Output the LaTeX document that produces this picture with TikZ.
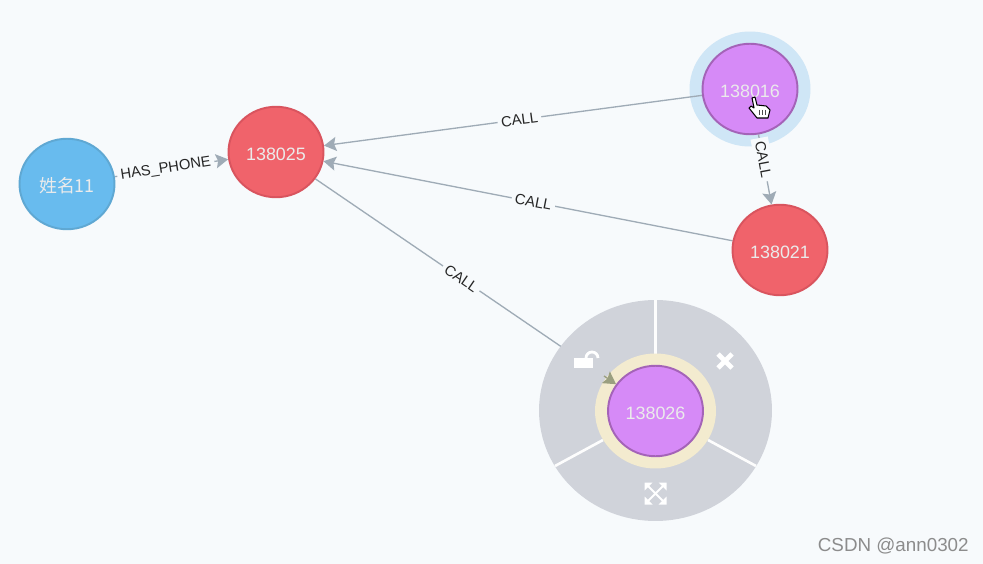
\documentclass[tikz,border=0pt]{standalone}
\usepackage{fontspec}
\setmainfont{Liberation Sans}
\newfontfamily\cjk{Noto Sans CJK SC}
\usetikzlibrary{arrows.meta,backgrounds,shapes.geometric}
\definecolor{pagebg}{HTML}{F7FAFC}
\definecolor{edgegray}{HTML}{9FABB6}
\definecolor{menugray}{HTML}{D0D3DA}
\definecolor{personblue}{HTML}{68BBEE}
\definecolor{personline}{HTML}{5FA8D3}
\definecolor{phonered}{HTML}{F0636B}
\definecolor{phoneline}{HTML}{D9545E}
\definecolor{callpurple}{HTML}{D68AF7}
\definecolor{callline}{HTML}{A463B8}
\definecolor{haloblue}{HTML}{CFE6F6}
\definecolor{halocream}{HTML}{F3EBCF}
\definecolor{tipolive}{HTML}{9A9F80}
\tikzset{
	graphnode/.style={ellipse, minimum width=1.9cm, minimum height=1.81cm, inner sep=0pt, line width=1.1pt, text=white!92!black, text height=9.6pt, text depth=0pt, font=\fontsize{10.2}{12}\selectfont},
	person/.style={graphnode, fill=personblue, draw=personline},
	phone/.style={graphnode, fill=phonered, draw=phoneline},
	call/.style={graphnode, fill=callpurple, draw=callline},
	halo/.style={ellipse, inner sep=0pt, minimum width=2.42cm, minimum height=2.3cm},
	edgeline/.style={draw=edgegray, line width=0.75pt, -{Stealth[length=7pt,width=8pt,inset=1.2pt]}},
	edgelabel/.style={sloped, fill=pagebg, inner sep=2pt, text=black!85, font=\fontsize{8.4}{10}\selectfont},
	menuline/.style={white!95!menugray, line width=1.5pt},
}
\begin{document}
\begin{tikzpicture}[x=0.02cm, y=-0.02cm]
	\path[use as bounding box] (0,0) rectangle (983,564);
	\node[ellipse, fill=menugray, minimum width=4.66cm, minimum height=4.42cm, inner sep=0pt] (menu) at (655.5,410.5) {};
	\draw[menuline] (655.5,300) -- (655.5,356);
	\draw[menuline] (555,466) -- (603,440);
	\draw[menuline] (756,466) -- (708,440);
	\node[halo, fill=halocream] (halo26) at (655.5,411) {};
	\fill[white] (574,358) rectangle (593,368);
	\draw[white, line width=1.6pt] (586,358) arc (180:360:6);
	\draw[white, line width=2.7pt] (718,354) -- (732,368) (732,354) -- (718,368);
	\draw[white, line width=1.1pt] (648,486) -- (663,501) (663,486) -- (648,501);
	\foreach \sx/\sy in {-1/-1, 1/-1, -1/1, 1/1} {
		\fill[white] (655.5+11*\sx,493.5+11*\sy) -- (655.5+3*\sx,493.5+11*\sy) -- (655.5+11*\sx,493.5+3*\sy) -- cycle;
	}
	\node[person] (name11) at (67,184) {{\cjk 姓名11}};
	\node[phone] (n25) at (276,152) {138025};
	\node[call] (n16) at (750,89) {138016};
	\node[phone] (n21) at (780,250) {138021};
	\node[call] (n26) at (655.5,411) {138026};
	\coordinate (tip26) at (604,376);
	\begin{pgfonlayer}{background}
		\fill[pagebg] (0,0) rectangle (983,564);
		\node[halo, fill=haloblue] (halo16) at (750,89) {};
		\draw[edgeline] (name11) -- node[edgelabel, pos=0.45] {HAS\_PHONE} (n25);
		\draw[edgeline] (n16) -- node[edgelabel, pos=0.483] {CALL} (n25);
		\draw[edgeline] (n21) -- node[edgelabel, pos=0.487] {CALL} (n25);
		\draw[edgeline] (n16) -- node[edgelabel, pos=0.36] {CALL} (n21);
		\draw[draw=edgegray, line width=0.75pt] (n25) -- node[edgelabel, pos=0.485] {CALL} (n26);
	\end{pgfonlayer}
	\draw[edgeline, draw=tipolive] (tip26) -- (n26);
	\draw[fill=white, draw=black, line width=0.6pt, line join=round] (752,98) -- (755,97) -- (757,105) -- (766,106) -- (770,110) -- (768,118) -- (757,118) -- (749,108) -- (751,106) -- (754,108) -- cycle;
	\draw[black!70, line width=0.4pt] (759,110) -- (759,115) (762,110) -- (762,115) (765,110) -- (765,115);
	\node[text=black!45, inner sep=0pt, font=\fontsize{10.7}{12}\selectfont, anchor=east] (mark) at (969,546) {CSDN @ann0302};
\end{tikzpicture}
\end{document}
